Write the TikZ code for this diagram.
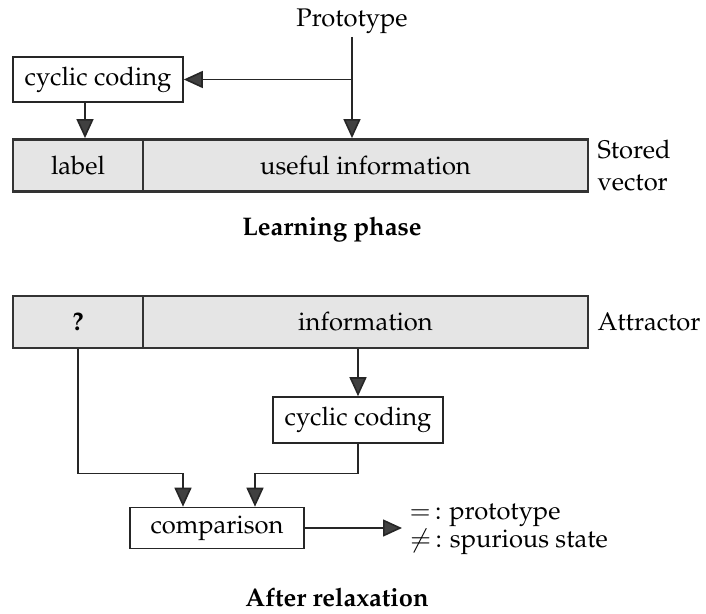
\documentclass[tikz,border=0pt]{standalone}
\usepackage[T1]{fontenc}
\usepackage{mathpazo}
\usetikzlibrary{arrows.meta,calc}

\begin{document}
\begin{tikzpicture}[x=1pt,y=-1pt,
  font=\fontsize{25.5}{30}\selectfont,
  box/.style={draw=black!85, line width=1.6pt, fill=white, inner sep=0pt, minimum height=45pt},
  cell/.style={draw=black!80, line width=2.8pt, fill=gray!20, inner sep=0pt, minimum height=52pt},
  arr/.style={line width=1.6pt, draw=black!85, -{Triangle[length=19pt,width=17pt,fill=black!75]}},
  caption/.style={font=\fontsize{25.5}{30}\selectfont\bfseries}
]
\useasboundingbox (0,0) rectangle (706,613);

% ---- learning phase ----
\node (proto) at (352,21) {Prototype};
\node[box, minimum width=170pt] (cc1) at (98,79.5) {cyclic coding};
\node[cell, minimum width=130pt] (lab) at (78,165.5) {label};
\node[cell, minimum width=445pt] (info) at (365.5,165.5) {useful information};
\node[anchor=west, align=left, font=\fontsize{25.5}{32}\selectfont] (sv) at (594,166) {Stored\\vector};

\coordinate (pj) at (proto.south |- cc1.east);
\draw[arr] (proto.south) -- (proto.south |- info.north);
\draw[arr] (pj) -- (cc1.east);
\draw[arr] ([xshift=-13pt]cc1.south) -- ([xshift=-13pt]cc1.south |- lab.north);

\node[caption] (lp) at (332,230) {Learning phase};

% ---- after relaxation ----
\node[cell, minimum width=130pt] (q) at (78,322) {\textbf{?}};
\node[cell, minimum width=445pt] (info2) at (365.5,322) {information};
\node[anchor=west] (attr) at (594,322) {Attractor};

\node[box, minimum width=170pt, minimum height=46pt] (cc2) at (358,420) {cyclic coding};
\draw[arr] (cc2.north |- info2.south) -- (cc2.north);

\node[box, minimum width=174pt, minimum height=41pt] (cmp) at (217,528) {comparison};
\coordinate (inL) at ([xshift=-34pt]cmp.north);
\coordinate (inR) at ([xshift=38pt]cmp.north);
\coordinate (jy) at (0,473.5);
\draw[arr] (q.south) -- (q.south |- jy) -| (inL);
\draw[arr] (cc2.south) -- (cc2.south |- jy) -| (inR);

\node[anchor=west, align=left, font=\fontsize{25.5}{28}\selectfont] (res) at (406,529)
  {$=$\,: prototype\\$\neq$\,: spurious state};
\draw[arr] (cmp.east) -- ([xshift=-4pt]cmp.east -| res.west);

\node[caption] (ar) at (337,597) {After relaxation};
\end{tikzpicture}
\end{document}
